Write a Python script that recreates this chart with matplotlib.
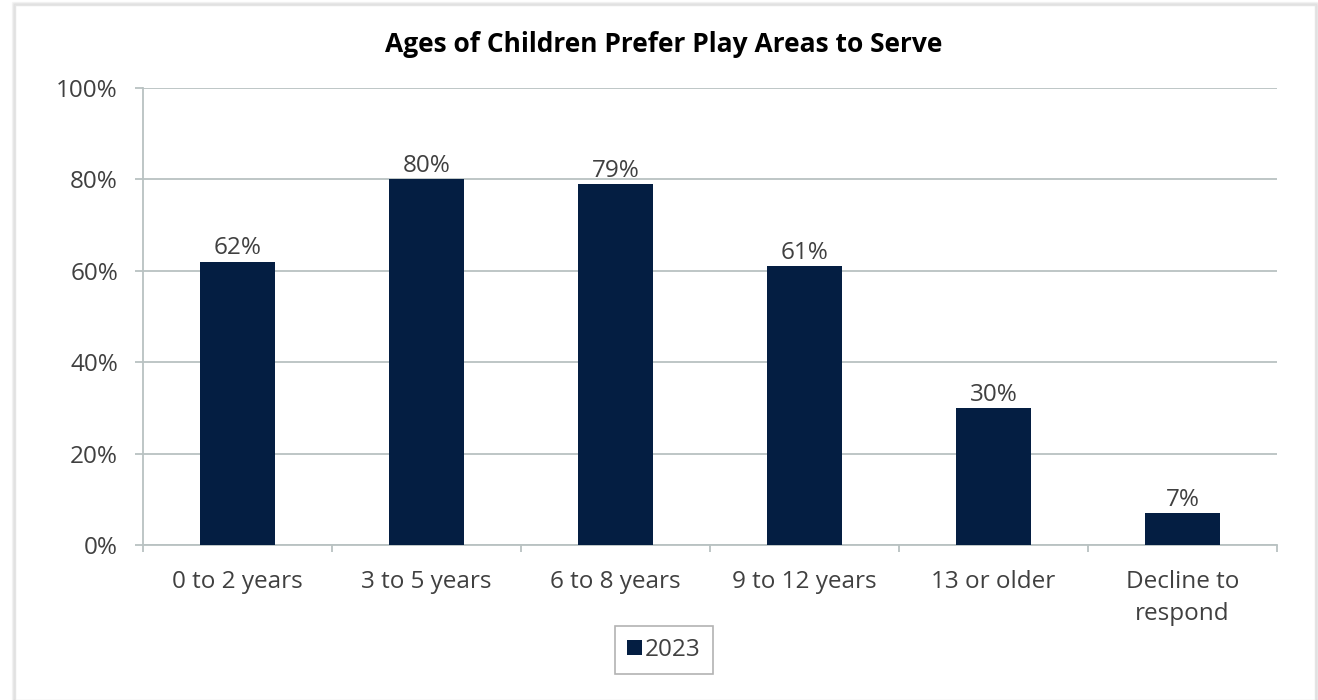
import matplotlib
matplotlib.use("Agg")
import matplotlib.pyplot as plt
from matplotlib.patches import Rectangle
import numpy as np

categories = ["0 to 2 years", "3 to 5 years", "6 to 8 years", "9 to 12 years", "13 or older", "Decline to\nrespond"]
values = [62, 80, 79, 61, 30, 7]
series_name = "2023"
yticks = [0, 20, 40, 60, 80, 100]

plt.rcParams['font.family'] = ['Open Sans', 'DejaVu Sans']
W, H = 1318, 700
fig = plt.figure(figsize=(W/100, H/100), dpi=100)
fig.patch.set_facecolor('white')

# card with soft shadow
for i, a in enumerate([0.04, 0.07, 0.10]):
    off = 3 - i
    fig.patches.append(Rectangle(((15-off)/W, 0), (1300+2*off)/W, (695+off)/H, transform=fig.transFigure,
                                 facecolor='none', edgecolor=(0, 0, 0, a), lw=1, zorder=-2))
fig.patches.append(Rectangle((15/W, 0), 1300/W, 695/H, transform=fig.transFigure,
                             facecolor='white', edgecolor='#e4e4e4', lw=1, zorder=-1))

grid_c = '#b9c2c2'
text_c = '#404040'
bar_c = '#041e42'
fs = 17.5

ax = fig.add_axes([143/W, 1-545/H, (1277-143)/W, (545-88)/H])
ax.set_zorder(2)
ax.set_facecolor('none')
x = np.arange(len(categories))
bars = ax.bar(x, values, width=0.4, color=bar_c, label=series_name, zorder=3)
ax.set_xlim(-0.5, len(categories)-0.5)
ax.set_ylim(0, 100)
ax.set_yticks(yticks)
ax.set_yticklabels([f"{v}%" for v in yticks], fontsize=fs, color=text_c)
ax.yaxis.grid(True, color=grid_c, lw=1.3, zorder=0)
ax.set_xticks(x)
ax.set_xticklabels(categories, fontsize=fs, color=text_c, linespacing=1.45)
ax.set_xticks(np.arange(len(categories)+1)-0.5, minor=True)
ax.tick_params(axis='x', which='major', length=0, pad=18)
ax.tick_params(axis='x', which='minor', length=5, color=grid_c, width=1.3)
ax.tick_params(axis='y', length=6, color=grid_c, width=1.3, pad=12)
for s in ['top', 'right']:
    ax.spines[s].set_visible(False)
for s in ['left', 'bottom']:
    ax.spines[s].set_color(grid_c)
    ax.spines[s].set_linewidth(1.3)

for xi, v in zip(x, values):
    ax.annotate(f"{v}%", (xi, v), xytext=(0, 1), textcoords='offset points',
                ha='center', va='bottom', fontsize=fs, color=text_c)

fig.text(664/W, 1-45/H, "Ages of Children Prefer Play Areas to Serve", fontsize=19, fontweight='bold',
         color='black', ha='center', va='center')

leg = ax.legend(loc='center', bbox_to_anchor=(664/W, 1-650/H), bbox_transform=fig.transFigure,
                fontsize=fs, frameon=True, fancybox=False, handlelength=0.6, handleheight=0.6,
                handletextpad=0.15, borderpad=0.5, labelcolor=text_c)
leg.get_frame().set_edgecolor('#a0a0a0')
leg.get_frame().set_linewidth(1.2)

fig.savefig("out.png", dpi=100)
